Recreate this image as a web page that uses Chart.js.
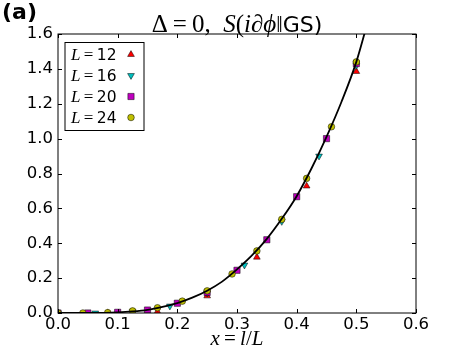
<!DOCTYPE html>
<html lang="en">
<head>
    <meta charset="UTF-8">
    <title>S(i∂φ||GS) scaling</title>
    <script src="https://cdn.jsdelivr.net/npm/chart.js"></script>
    <style>
        body { margin: 0; background: #fff; }
    </style>
</head>
<body>
    <canvas id="entChart" width="463" height="348"></canvas>

    <script>
        // data
        const x12 = [0, 0.0833, 0.1667, 0.25, 0.3333, 0.4167, 0.5];
        const y12 = [0, 0.001, 0.008, 0.098, 0.32, 0.728, 1.385];

        const x16 = [0, 0.0625, 0.125, 0.1875, 0.25, 0.3125, 0.375, 0.4375, 0.5];
        const y16 = [0, 0.0, 0.01, 0.04, 0.115, 0.275, 0.525, 0.90, 1.42];

        const x20 = [0, 0.05, 0.1, 0.15, 0.2, 0.25, 0.3, 0.35, 0.4, 0.45, 0.5];
        const y20 = [0, 0.0, 0.004, 0.017, 0.056, 0.118, 0.245, 0.42, 0.667, 1.0, 1.43];

        const x24 = [0, 0.0417, 0.0833, 0.125, 0.1667, 0.2083, 0.25, 0.2917, 0.3333, 0.375, 0.4167, 0.4583, 0.5];
        const y24 = [0, 0.0, 0.002, 0.012, 0.03, 0.068, 0.127, 0.224, 0.356, 0.537, 0.772, 1.068, 1.44];

        // solid curve
        const curveX = [0, 0.05, 0.1, 0.125, 0.15, 0.175, 0.2, 0.225, 0.25, 0.275, 0.3, 0.325, 0.35, 0.375, 0.4, 0.425, 0.45, 0.475, 0.5, 0.52];
        const curveY = [0, 0.0004, 0.004, 0.009, 0.018, 0.035, 0.057, 0.088, 0.128, 0.18, 0.25, 0.33, 0.425, 0.54, 0.67, 0.83, 1.01, 1.21, 1.44, 1.68];

        const xTicks = [0, 0.1, 0.2, 0.3, 0.4, 0.5, 0.6];
        const yTicks = [0, 0.2, 0.4, 0.6, 0.8, 1.0, 1.2, 1.4, 1.6];

        const legendLabels = ['12', '16', '20', '24'];

        const pts = (xs, ys) => xs.map((v, i) => ({ x: v, y: ys[i] }));

        const SERIF = '"Liberation Serif", "DejaVu Serif", serif';
        const SANS = '"DejaVu Sans", sans-serif';

        function marks(label, xs, ys, color, style, radius, rotation, order) {
            return {
                label: label,
                data: pts(xs, ys),
                showLine: false,
                pointStyle: style,
                pointRadius: radius,
                pointRotation: rotation,
                pointBackgroundColor: color,
                pointBorderColor: '#000',
                pointBorderWidth: 0.5,
                pointHoverRadius: radius,
                order: order,
                clip: 0
            };
        }

        const sets = [
            marks('L=12', x12, y12, '#ff0000', 'triangle', 3.9, 0, 4),
            marks('L=16', x16, y16, '#00bfbf', 'triangle', 3.9, 180, 3),
            marks('L=20', x20, y20, '#bf00bf', 'rect', 4.4, 0, 2),
            marks('L=24', x24, y24, '#bfbf00', 'circle', 3.3, 0, 1)
        ];

        // draw a run of text pieces with their own fonts
        function drawRuns(ctx, runs, x, y, align) {
            let total = 0;
            runs.forEach(r => { ctx.font = r[1]; total += ctx.measureText(r[0]).width; });
            let cx = align === 'center' ? x - total / 2 : x;
            ctx.textAlign = 'left';
            ctx.textBaseline = 'alphabetic';
            runs.forEach(r => {
                ctx.font = r[1];
                ctx.fillText(r[0], cx, y);
                cx += ctx.measureText(r[0]).width;
            });
        }

        const decorations = {
            id: 'decorations',
            afterDraw(chart) {
                const ctx = chart.ctx;
                const a = chart.chartArea;
                const xs = chart.scales.x, ys = chart.scales.y;
                ctx.save();
                ctx.fillStyle = '#000';
                ctx.strokeStyle = '#000';

                // frame
                ctx.lineWidth = 1;
                ctx.strokeRect(a.left, a.top, a.right - a.left, a.bottom - a.top);

                // inward ticks on all sides
                ctx.beginPath();
                xTicks.forEach(t => {
                    const px = Math.round(xs.getPixelForValue(t)) + 0.5;
                    ctx.moveTo(px, a.bottom); ctx.lineTo(px, a.bottom - 4);
                    ctx.moveTo(px, a.top); ctx.lineTo(px, a.top + 4);
                });
                yTicks.forEach(t => {
                    const py = Math.round(ys.getPixelForValue(t)) + 0.5;
                    ctx.moveTo(a.left, py); ctx.lineTo(a.left + 4, py);
                    ctx.moveTo(a.right, py); ctx.lineTo(a.right - 4, py);
                });
                ctx.stroke();

                // panel tag and title
                ctx.font = 'bold 22px ' + SANS;
                ctx.textAlign = 'left';
                ctx.fillText('(a)', 2, 19);

                const mid = (a.left + a.right) / 2;
                drawRuns(ctx, [
                    ['\u0394\u2009=\u20090,\u2002', '25px ' + SERIF],
                    ['S', 'italic 25px ' + SERIF],
                    ['(', '25px ' + SERIF],
                    ['i\u2202\u03d5', 'italic 25px ' + SERIF],
                    ['\u2016', '23px ' + SERIF],
                    ['GS)', '22px ' + SANS]
                ], mid, 31.5, 'center');

                // x axis label
                drawRuns(ctx, [
                    ['x', 'italic 21px ' + SERIF],
                    ['\u2009=\u2009', '21px ' + SERIF],
                    ['l', 'italic 21px ' + SERIF],
                    ['/', '21px ' + SERIF],
                    ['L', 'italic 21px ' + SERIF]
                ], mid, 345, 'center');

                // legend box
                const bx = 65, by = 42.5, bw = 79, bh = 88;
                ctx.fillStyle = '#fff';
                ctx.fillRect(bx, by, bw, bh);
                ctx.strokeStyle = '#000';
                ctx.lineWidth = 1;
                ctx.strokeRect(bx, by, bw, bh);
                legendLabels.forEach((lab, i) => {
                    const cy = 54.5 + i * 21;
                    ctx.fillStyle = '#000';
                    drawRuns(ctx, [
                        ['L', 'italic 17px ' + SERIF],
                        ['\u2009=\u2009', '17px ' + SERIF],
                        [lab, '15.5px ' + SANS]
                    ], 71, cy + 5.5, 'left');
                    const ds = sets[i];
                    ctx.fillStyle = ds.pointBackgroundColor;
                    ctx.strokeStyle = '#000';
                    ctx.lineWidth = 0.5;
                    Chart.helpers.drawPoint(ctx, {
                        pointStyle: ds.pointStyle,
                        radius: ds.pointRadius,
                        rotation: ds.pointRotation,
                        borderWidth: 0.5
                    }, 131, cy);
                });
                ctx.restore();
            }
        };

        const ctx = document.getElementById('entChart').getContext('2d');
        new Chart(ctx, {
            type: 'scatter',
            data: {
                datasets: [
                    {
                        label: 'curve',
                        data: pts(curveX, curveY),
                        showLine: true,
                        borderColor: '#000',
                        borderWidth: 1.8,
                        pointRadius: 0,
                        pointHoverRadius: 0,
                        cubicInterpolationMode: 'monotone',
                        order: 0
                    }
                ].concat(sets)
            },
            options: {
                responsive: false,
                animation: false,
                events: [],
                layout: { padding: { left: 0, right: 47, top: 34, bottom: 0 } },
                plugins: {
                    legend: { display: false },
                    title: { display: false },
                    tooltip: { enabled: false }
                },
                scales: {
                    x: {
                        type: 'linear',
                        min: 0,
                        max: 0.6,
                        afterFit: s => { s.height = 35; },
                        afterBuildTicks: s => { s.ticks = xTicks.map(v => ({ value: v })); },
                        grid: { display: false, drawTicks: false },
                        border: { display: false },
                        ticks: {
                            padding: 2,
                            color: '#000',
                            font: { family: SANS, size: 16.5 },
                            callback: v => v.toFixed(1)
                        }
                    },
                    y: {
                        type: 'linear',
                        min: 0,
                        max: 1.6,
                        afterFit: s => { s.width = 58; },
                        afterBuildTicks: s => { s.ticks = yTicks.map(v => ({ value: v })); },
                        grid: { display: false, drawTicks: false },
                        border: { display: false },
                        ticks: {
                            padding: 5,
                            color: '#000',
                            font: { family: SANS, size: 16.5 },
                            callback: v => v.toFixed(1)
                        }
                    }
                }
            },
            plugins: [decorations]
        });
    </script>
</body>
</html>
